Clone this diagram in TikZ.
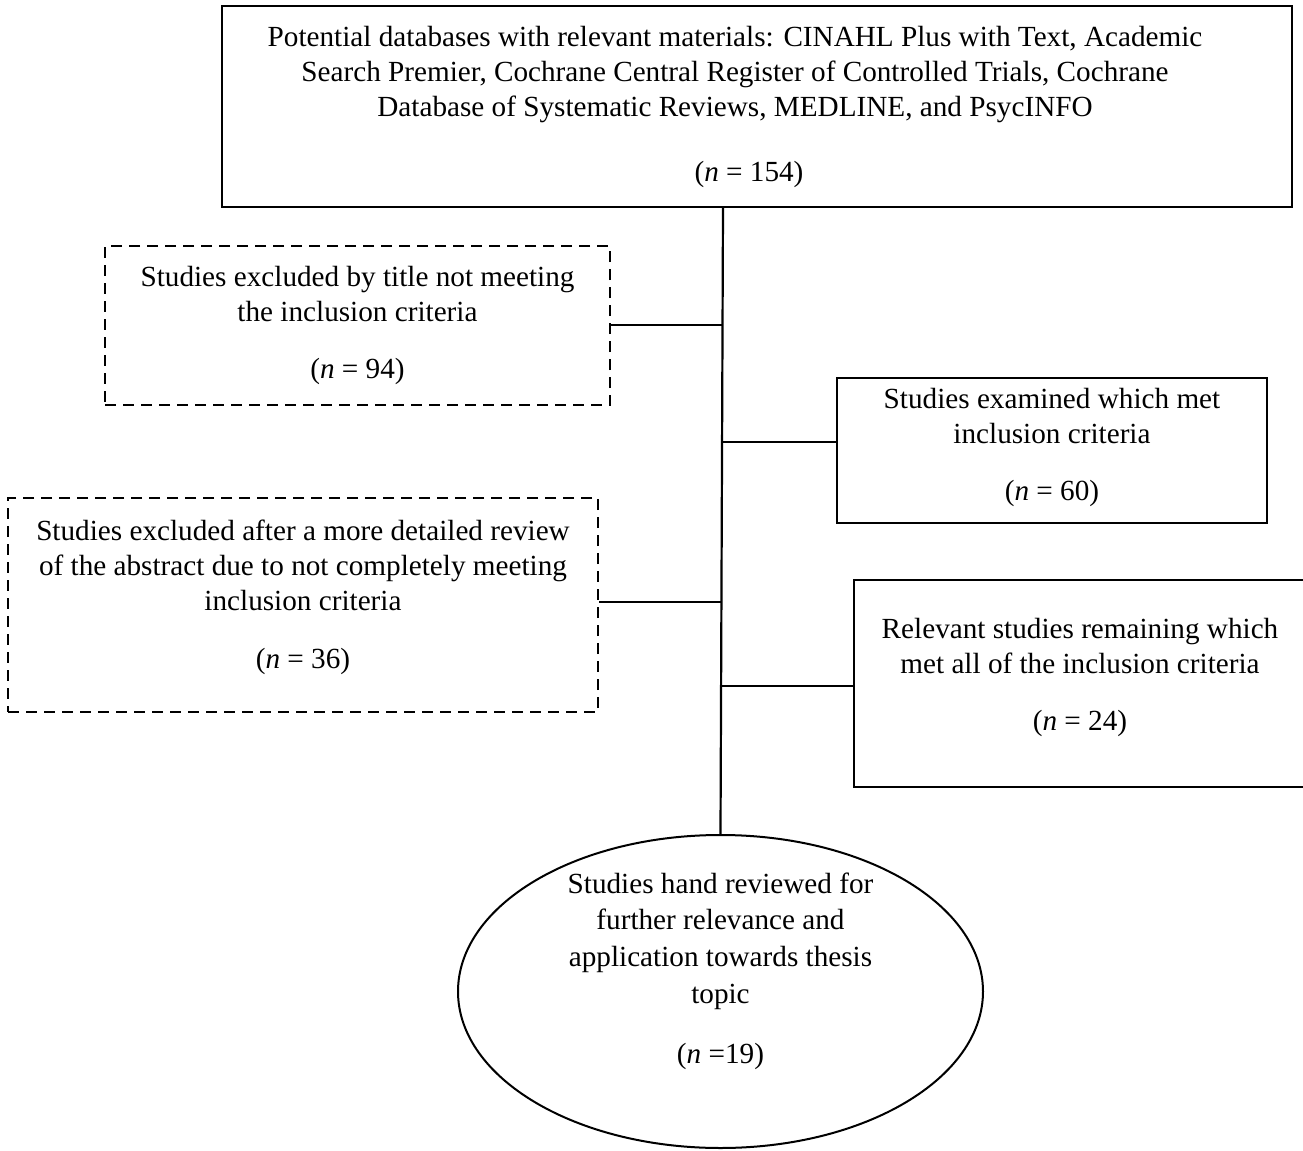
\documentclass[tikz,border=0pt]{standalone}
\usepackage{fontspec}
\setmainfont{Liberation Serif}
\usetikzlibrary{shapes.geometric}
\begin{document}
\begin{tikzpicture}[x=0.5pt,y=-0.5pt,
  every node/.style={inner sep=0pt},
  txt/.style={align=center,font=\fontsize{14.6}{17.5}\selectfont},
  solidbox/.style={draw,line width=1pt,rectangle},
  dashbox/.style={draw,line width=1pt,rectangle,dash pattern=on 5.5pt off 3.5pt},
  endoval/.style={draw,line width=1pt,ellipse},
  trunk/.style={line width=1.1pt},
  branch/.style={line width=0.55pt}]
\useasboundingbox (0,0) rectangle (1303,1151);
\clip (0,0) rectangle (1303,1151);
% shapes
\node[solidbox,minimum width=535pt,minimum height=100.5pt] (top) at (757,106.5) {};
\node[dashbox,minimum width=252.5pt,minimum height=79.5pt] (b1) at (357.5,325.5) {};
\node[solidbox,minimum width=215pt,minimum height=72.5pt] (b2) at (1052,450.5) {};
\node[dashbox,minimum width=295pt,minimum height=107pt] (b3) at (303,605) {};
\node[solidbox,minimum width=226pt,minimum height=103.5pt] (b4) at (1080,683.5) {};
\node[endoval,minimum width=262.5pt,minimum height=156.5pt] (e) at (720.5,991.5) {};
% texts
\node[txt] (toptext) at ([xshift=-11pt]top.center)
  {Potential databases with relevant materials: CINAHL Plus with Text, Academic\\
   Search Premier, Cochrane Central Register of Controlled Trials, Cochrane\\
   Database of Systematic Reviews, MEDLINE, and PsycINFO\\[15pt]
   \hspace*{14pt}(\textit{n} = 154)};
\node[txt] (b1text) at (b1.center)
  {Studies excluded by title not meeting\\ the inclusion criteria\\[11pt] (\textit{n} = 94)};
\node[txt] (b2text) at ([yshift=1.5pt]b2.center)
  {Studies examined which met\\ inclusion criteria\\[11pt] (\textit{n} = 60)};
\node[txt] (b3text) at ([yshift=3.75pt]b3.center)
  {Studies excluded after a more detailed review\\ of the abstract due to not completely meeting\\ inclusion criteria\\[11.5pt] (\textit{n} = 36)};
\node[txt] (b4text) at ([yshift=3pt]b4.center)
  {Relevant studies remaining which\\ met all of the inclusion criteria\\[11pt] (\textit{n} = 24)};
\node[txt,font=\fontsize{14.6}{18.4}\selectfont] (etext) at ([yshift=10.25pt]e.center)
  {Studies hand reviewed for\\ further relevance and\\ application towards thesis\\ topic\\[11.5pt] (\textit{n} =19)};
% connectors
\coordinate (t1) at (723,207);
\coordinate (j1) at (722.4,325);
\coordinate (j2) at (721.8,442);
\coordinate (j3) at (721.0,602);
\coordinate (j4) at (720.8,686);
\draw[trunk] (top.south -| t1) -- (e.north);
\draw[branch] (b1.east |- j1) -- (j1);
\draw[branch] (j2) -- (b2.west |- j2);
\draw[branch] (b3.east |- j3) -- (j3);
\draw[branch] (j4) -- (b4.west |- j4);
\end{tikzpicture}
\end{document}
